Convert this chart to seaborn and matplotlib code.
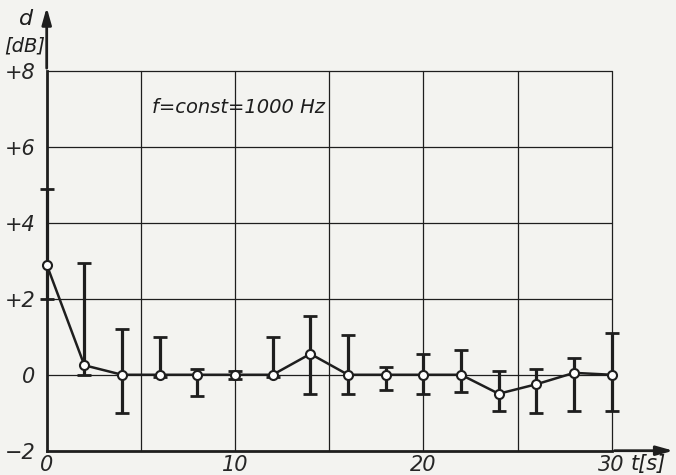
import numpy as np
import pandas as pd
import matplotlib
matplotlib.use("Agg")
import matplotlib.pyplot as plt
import seaborn as sns

t_values = [0, 2, 4, 6, 8, 10, 12, 14, 16, 18, 20, 22, 24, 26, 28, 30]
d_values = [2.9, 0.25, 0.0, 0.0, 0.0, 0.0, 0.0, 0.55, 0.0, 0.0, 0.0, 0.0, -0.5, -0.25, 0.05, 0.0]
d_upper = [4.9, 2.95, 1.2, 1.0, 0.15, 0.1, 1.0, 1.55, 1.05, 0.2, 0.55, 0.65, 0.1, 0.15, 0.45, 1.1]
d_lower = [2.0, 0.0, -1.0, -0.07, -0.55, -0.1, -0.07, -0.5, -0.5, -0.4, -0.5, -0.45, -0.95, -1.0, -0.95, -0.95]

x_ticks = [0, 10, 20, 30]
y_ticks = [-2, 0, 2, 4, 6, 8]
y_ticklabels = ["\u22122", "0", "+2", "+4", "+6", "+8"]

ink = "#1e1e1e"
paper = "#f3f3f0"

df = pd.DataFrame({"t": t_values, "d": d_values, "up": d_upper, "lo": d_lower})

sns.set_style("white")
plt.rcParams["font.family"] = ["DejaVu Sans"]
plt.rcParams["font.style"] = "italic"

fig = plt.figure(figsize=(6.76, 4.75), dpi=100, facecolor=paper)
ax = fig.add_axes([46.7 / 676, 1 - 450.7 / 475, (611.7 - 46.7) / 676, (450.7 - 71) / 475])
ax.set_facecolor(paper)

# grid (frame of the chart)
for xv in range(5, 31, 5):
    ax.axvline(xv, color=ink, lw=0.9, zorder=1, clip_on=False)
for yv in y_ticks[1:]:
    ax.axhline(yv, color=ink, lw=0.9, zorder=1, clip_on=False)

# error bars
yerr = np.vstack([df["d"] - df["lo"], df["up"] - df["d"]])
eb = ax.errorbar(df["t"], df["d"], yerr=yerr, fmt="none", ecolor=ink,
                 elinewidth=2.3, capsize=5, capthick=2.0, zorder=3)
for child in eb.get_children():
    child.set_clip_on(False)

sns.lineplot(data=df, x="t", y="d", ax=ax, color=ink, lw=1.8, zorder=4,
             marker="o", markersize=6.5, markerfacecolor="white",
             markeredgecolor=ink, markeredgewidth=1.5)
ax.lines[-1].set_clip_on(False)

ax.set_xlim(0, 30)
ax.set_ylim(-2, 8)
ax.set_xticks(x_ticks)
ax.set_xticklabels([str(v) for v in x_ticks], fontsize=15)
ax.set_yticks(y_ticks)
ax.set_yticklabels(y_ticklabels, fontsize=15)
ax.tick_params(length=0, pad=8)
ax.tick_params(axis="x", pad=3)
ax.set_xlabel("")
ax.set_ylabel("")

for side in ["top", "right"]:
    ax.spines[side].set_visible(False)
for side in ["left", "bottom"]:
    ax.spines[side].set_color(ink)
    ax.spines[side].set_linewidth(2.0)
    ax.spines[side].set_zorder(2)

# axis arrows
ax.annotate("", xy=(0, 1.175), xytext=(0, 1.0), xycoords="axes fraction",
            annotation_clip=False,
            arrowprops=dict(arrowstyle="-|>,head_length=1.0,head_width=0.28", color=ink, lw=2.0))
ax.annotate("", xy=(1.114, 0), xytext=(1.0, 0), xycoords="axes fraction",
            annotation_clip=False,
            arrowprops=dict(arrowstyle="-|>,head_length=1.0,head_width=0.28", color=ink, lw=2.0))

ax.text(5.6, 7.03, "f=const=1000 Hz", fontsize=14, color=ink, va="center", ha="left", zorder=5)

fig.text(26 / 676, 1 - 19 / 475, "d", fontsize=16, color=ink, ha="center", va="center")
fig.text(25 / 676, 1 - 46 / 475, "[dB]", fontsize=14, color=ink, ha="center", va="center")
fig.text(648 / 676, 1 - 464 / 475, "t[s]", fontsize=15, color=ink, ha="center", va="center")

fig.savefig("out.png", dpi=100, facecolor=paper)
